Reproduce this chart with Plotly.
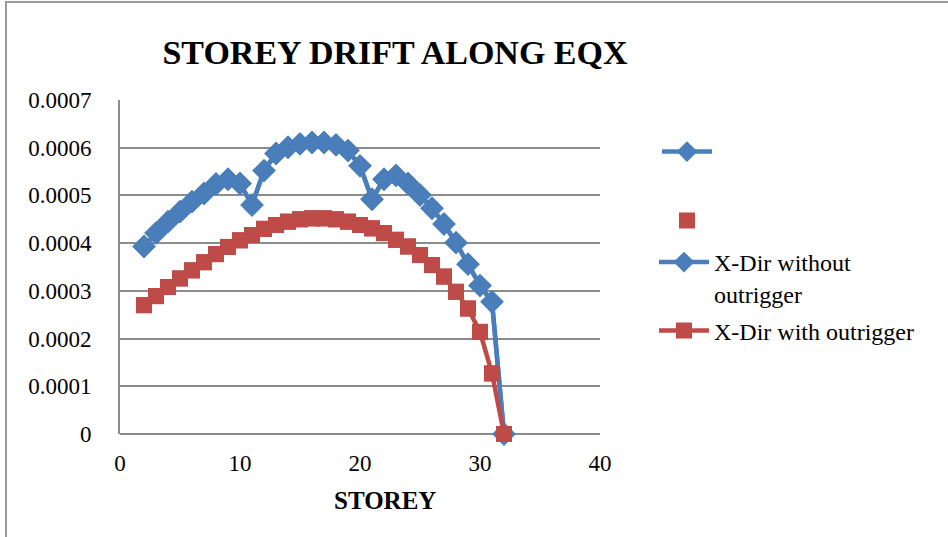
import plotly.graph_objects as go

# Storey numbers and inter-storey drift under EQX loading
storeys = list(range(2, 33))

drift_without_outrigger = [
    0.000393, 0.000421, 0.000445, 0.000466, 0.000487, 0.000504, 0.000524,
    0.000534, 0.000525, 0.000480, 0.000552, 0.000588, 0.000601, 0.000608,
    0.000611, 0.000611, 0.000606, 0.000594, 0.000562, 0.000492, 0.000534,
    0.000542, 0.000525, 0.000501, 0.000473, 0.000440, 0.000401, 0.000356,
    0.000311, 0.000277, 0.0,
]

drift_with_outrigger = [
    0.000270, 0.000289, 0.000308, 0.000326, 0.000343, 0.000360, 0.000377,
    0.000392, 0.000406, 0.000417, 0.000430, 0.000438, 0.000445, 0.000450,
    0.000452, 0.000452, 0.000450, 0.000445, 0.000438, 0.000431, 0.000421,
    0.000407, 0.000393, 0.000375, 0.000354, 0.000330, 0.000298, 0.000263,
    0.000214, 0.000127, 0.0,
]

y_tick_values = [0, 0.0001, 0.0002, 0.0003, 0.0004, 0.0005, 0.0006, 0.0007]
y_tick_labels = ["0", "0.0001", "0.0002", "0.0003", "0.0004", "0.0005", "0.0006", "0.0007"]
x_tick_values = [0, 10, 20, 30, 40]

BLUE = "#4A7EBB"
RED = "#BE4B48"
GRID = "#8C8C8C"
SERIF = "Liberation Serif, Times New Roman, serif"

# plot area in pixels: x 120..600, y 100..434
PL, PR, PT, PB = 120, 600, 100, 434


def px_x(p):
    return (p - PL) / (PR - PL)


def px_y(p):
    return (PB - p) / (PB - PT)


fig = go.Figure()

# Unnamed series (shown in the legend without a label)
fig.add_trace(go.Scatter(
    x=storeys, y=drift_without_outrigger, name="\u00a0", mode="lines+markers",
    line=dict(color=BLUE, width=4.5),
    marker=dict(symbol="diamond", size=18, color=BLUE),
    cliponaxis=False, legend="legend",
))
fig.add_trace(go.Scatter(
    x=storeys, y=drift_with_outrigger, name="\u00a0", mode="markers",
    marker=dict(symbol="square", size=16, color=RED),
    cliponaxis=False, legend="legend2",
))

# Named series
fig.add_trace(go.Scatter(
    x=storeys, y=drift_without_outrigger, name="X-Dir without<br>outrigger",
    mode="lines+markers",
    line=dict(color=BLUE, width=4.5),
    marker=dict(symbol="diamond", size=18, color=BLUE),
    cliponaxis=False, legend="legend3",
))
fig.add_trace(go.Scatter(
    x=storeys, y=drift_with_outrigger, name="X-Dir with outrigger",
    mode="lines+markers",
    line=dict(color=RED, width=4.5),
    marker=dict(symbol="square", size=16, color=RED),
    cliponaxis=False, legend="legend4",
))

legend_font = dict(family=SERIF, size=24, color="black")
legend_common = dict(font=legend_font, xanchor="left", bgcolor="rgba(0,0,0,0)",
                     borderwidth=0, valign="top", itemwidth=50)

fig.update_layout(
    width=948, height=537,
    margin=dict(l=PL, r=948 - PR, t=PT, b=537 - PB),
    paper_bgcolor="white", plot_bgcolor="white",
    title=dict(
        text="<b>STOREY DRIFT ALONG EQX</b>",
        font=dict(family=SERIF, size=34, color="black"),
        x=395 / 948, xanchor="center", y=1 - 52 / 537, yanchor="middle",
    ),
    xaxis=dict(
        range=[0, 40], tickvals=x_tick_values,
        showgrid=False, zeroline=False, showline=False,
        ticks="", ticklabelstandoff=13,
        tickfont=dict(family=SERIF, size=23, color="black"),
    ),
    yaxis=dict(
        range=[0, 0.0007], tickvals=y_tick_values, ticktext=y_tick_labels,
        showgrid=True, gridcolor=GRID, gridwidth=2,
        zeroline=True, zerolinecolor=GRID, zerolinewidth=2,
        showline=True, linecolor=GRID, linewidth=2,
        ticks="", ticklabelstandoff=22,
        tickfont=dict(family=SERIF, size=23, color="black"),
    ),
    annotations=[
        dict(text="<b>STOREY</b>", xref="paper", yref="paper",
             x=px_x(385), y=px_y(500), xanchor="center", yanchor="middle",
             showarrow=False, font=dict(family=SERIF, size=25, color="black")),
    ],
    showlegend=True,
    legend=dict(x=px_x(657), y=px_y(152), yanchor="middle", **legend_common),
    legend2=dict(x=px_x(657), y=px_y(221), yanchor="middle", **legend_common),
    legend3=dict(x=px_x(654), y=px_y(240), yanchor="top", **legend_common),
    legend4=dict(x=px_x(654), y=px_y(331), yanchor="middle", **legend_common),
    shapes=[
        # outer frame (top and left edges)
        dict(type="line", xref="paper", yref="paper",
             x0=px_x(5), x1=px_x(948), y0=px_y(2), y1=px_y(2),
             line=dict(color="#9A9A9A", width=2)),
        dict(type="line", xref="paper", yref="paper",
             x0=px_x(6), x1=px_x(6), y0=px_y(2), y1=px_y(540),
             line=dict(color="#9A9A9A", width=2)),
    ],
)

fig.write_html("out.html")
